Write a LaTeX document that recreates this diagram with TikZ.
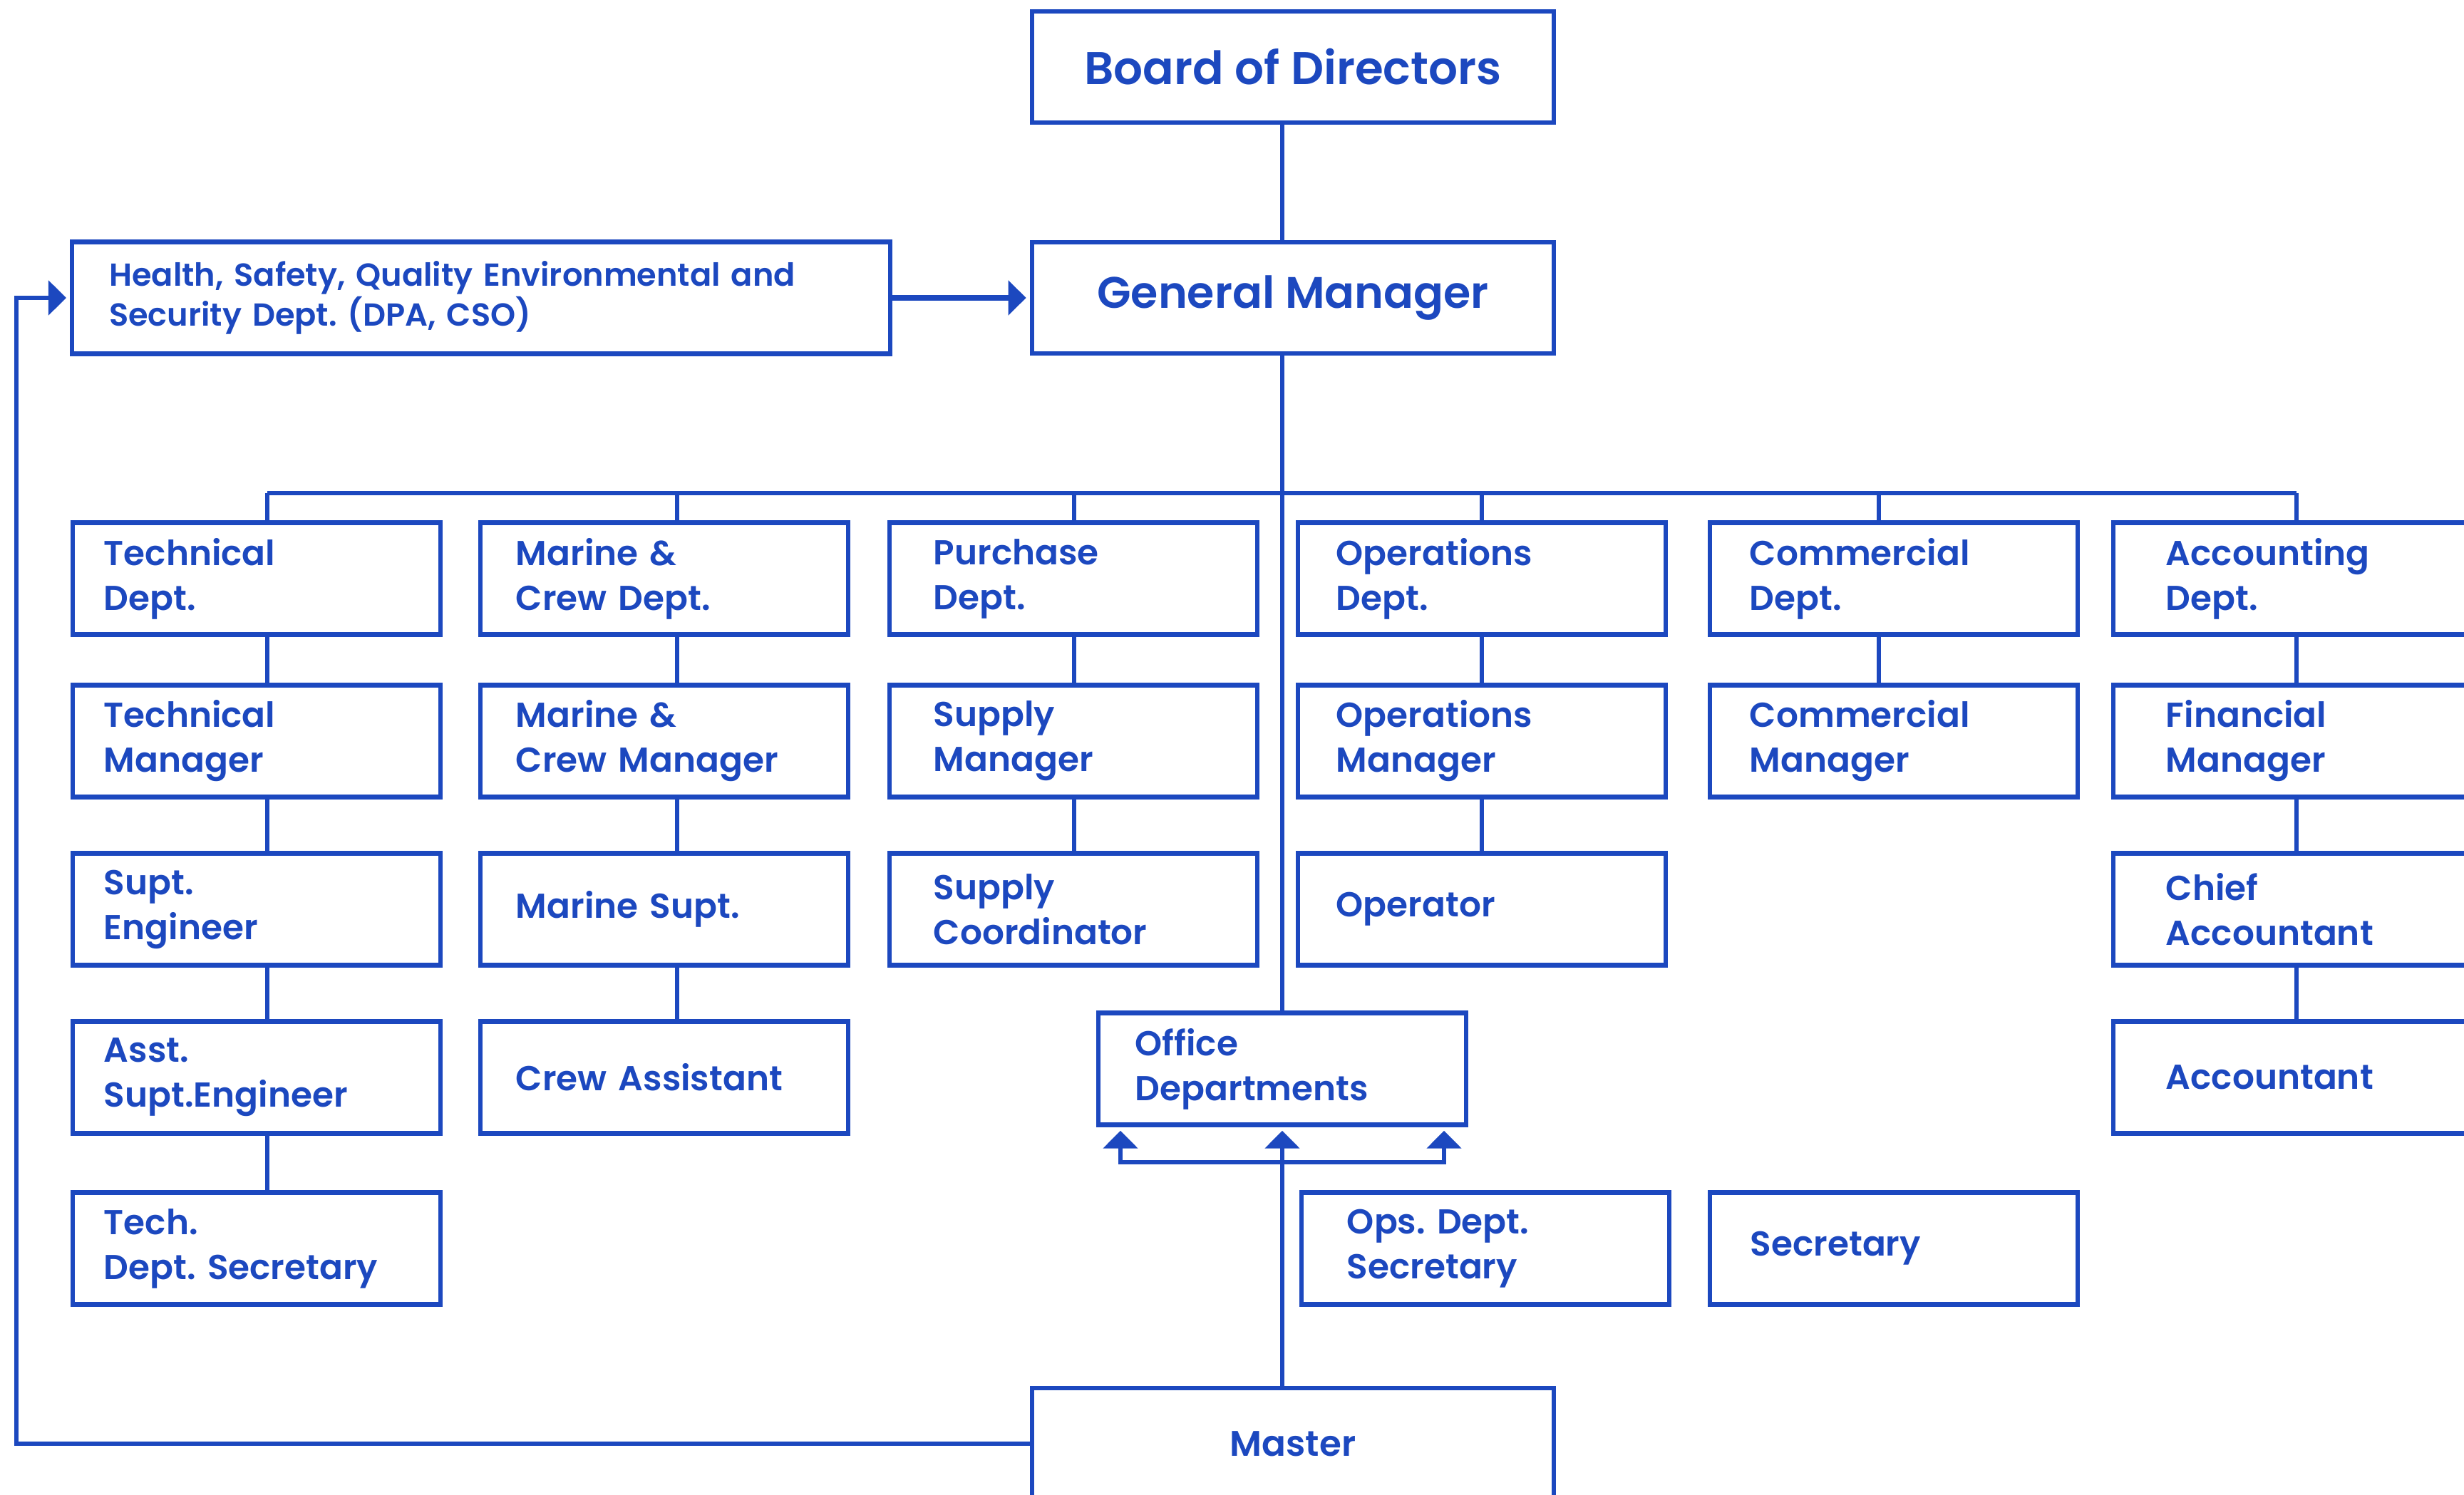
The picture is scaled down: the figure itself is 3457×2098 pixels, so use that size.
\documentclass[tikz,border=0pt]{standalone}
\usepackage{fontspec}
\setmainfont{Poppins}[UprightFont={* SemiBold}]
\usetikzlibrary{arrows.meta}
\definecolor{orgblue}{HTML}{1C48BF}
\frenchspacing

\begin{document}
\begin{tikzpicture}[x=0.01cm, y=-0.01cm, every node/.style={text=orgblue}]
    % Styles
    \tikzstyle{unit} = [rectangle, draw=orgblue, line width=1.8pt, minimum width=5.16cm, minimum height=1.57cm, align=left, font=\fontsize{13.8}{17.9}\selectfont]
    \tikzstyle{pad} = [inner xsep=#1, text width=5.16cm-2*#1]
    \tikzstyle{head} = [rectangle, draw=orgblue, line width=1.8pt, minimum width=7.32cm, minimum height=1.56cm, font=\fontsize{18.3}{22}\selectfont]
    \tikzstyle{line} = [draw=orgblue, line width=1.6pt]
    \tikzstyle{arrow} = [line, -{Triangle[width=0.48cm, length=0.25cm]}, shorten >=0.05cm]

    \useasboundingbox (0,0) rectangle (3457,2098);

    % Top
    \node (board) [head] at (1814,94) {Board of Directors};
    \node (gm) [head, font=\fontsize{17.6}{22}\selectfont] at (1814,418) {General Manager};
    \node (hsqe) [unit, minimum width=11.47cm, inner xsep=0.52cm, text width=10.43cm, font=\fontsize{12.7}{15}\selectfont] at (675,418) {Health, Safety, Quality Environmental and\\Security Dept. (DPA, CSO)};

    % Departments
    \node (techdept)   [unit, pad=0.44cm] at (360,812)  {Technical\\Dept.};
    \node (techmgr)    [unit, pad=0.44cm] at (360,1040) {Technical\\Manager};
    \node (supteng)    [unit, pad=0.44cm] at (360,1276) {Supt.\\Engineer};
    \node (asstsupt)   [unit, pad=0.44cm] at (360,1512) {Asst.\\Supt.Engineer};
    \node (techsec)    [unit, pad=0.44cm] at (360,1752) {Tech.\\Dept. Secretary};

    \node (marinedept) [unit, pad=0.50cm] at (932,812)  {Marine \&\\Crew Dept.};
    \node (marinemgr)  [unit, pad=0.50cm] at (932,1040) {Marine \&\\Crew Manager};
    \node (marinesupt) [unit, pad=0.50cm] at (932,1276) {Marine Supt.};
    \node (crewasst)   [unit, pad=0.50cm] at (932,1512) {Crew Assistant};

    \node (purchdept)  [unit, pad=0.62cm] at (1506,812)  {Purchase\\Dept.};
    \node (supplymgr)  [unit, pad=0.62cm] at (1506,1040) {Supply\\Manager};
    \node (supplycoord)[unit, pad=0.62cm] at (1506,1276) {Supply\\Coordinator};

    \node (opsdept)    [unit, pad=0.54cm] at (2079,812)  {Operations\\Dept.};
    \node (opsmgr)     [unit, pad=0.54cm] at (2079,1040) {Operations\\Manager};
    \node (operator)   [unit, pad=0.54cm] at (2079,1276) {Operator};

    \node (commdept)   [unit, pad=0.56cm] at (2657,812)  {Commercial\\Dept.};
    \node (commmgr)    [unit, pad=0.56cm] at (2657,1040) {Commercial\\Manager};

    \node (accdept)    [unit, pad=0.74cm] at (3223,812)  {Accounting\\Dept.};
    \node (finmgr)     [unit, pad=0.74cm] at (3223,1040) {Financial\\Manager};
    \node (chiefacc)   [unit, pad=0.74cm] at (3223,1276) {Chief\\Accountant};
    \node (accountant) [unit, pad=0.74cm] at (3223,1512) {Accountant};

    % Office and ship
    \node (office)     [unit, pad=0.52cm] at (1799,1500) {Office\\Departments};
    \node (opssec)     [unit, pad=0.64cm] at (2084,1752) {Ops. Dept.\\Secretary};
    \node (secretary)  [unit, pad=0.57cm] at (2657,1752) {Secretary};
    \node (master) [head, font=\fontsize{14.2}{17}\selectfont] at (1814,2026) {Master};

    % Bus
    \coordinate (spine) at (1799,692);
    \coordinate (b1) at (375,692);
    \coordinate (b2) at (950,692);
    \coordinate (b3) at (1507,692);
    \coordinate (b4) at (2079,692);
    \coordinate (b5) at (2636,692);
    \coordinate (b6) at (3222,692);
    \coordinate (loop) at (23,692);
    \coordinate (brl) at (1572,1631);
    \coordinate (brr) at (2026,1631);

    % Lines
    \draw [line] (spine |- board.south) -- (spine |- gm.north);
    \draw [line] (spine |- gm.south) -- (spine |- office.north);
    \draw [line] (b1) -- (b6);

    \draw [line] (b1) -- (b1 |- techdept.north);
    \draw [line] (b1 |- techdept.south) -- (b1 |- techmgr.north);
    \draw [line] (b1 |- techmgr.south) -- (b1 |- supteng.north);
    \draw [line] (b1 |- supteng.south) -- (b1 |- asstsupt.north);
    \draw [line] (b1 |- asstsupt.south) -- (b1 |- techsec.north);

    \draw [line] (b2) -- (b2 |- marinedept.north);
    \draw [line] (b2 |- marinedept.south) -- (b2 |- marinemgr.north);
    \draw [line] (b2 |- marinemgr.south) -- (b2 |- marinesupt.north);
    \draw [line] (b2 |- marinesupt.south) -- (b2 |- crewasst.north);

    \draw [line] (b3) -- (b3 |- purchdept.north);
    \draw [line] (b3 |- purchdept.south) -- (b3 |- supplymgr.north);
    \draw [line] (b3 |- supplymgr.south) -- (b3 |- supplycoord.north);

    \draw [line] (b4) -- (b4 |- opsdept.north);
    \draw [line] (b4 |- opsdept.south) -- (b4 |- opsmgr.north);
    \draw [line] (b4 |- opsmgr.south) -- (b4 |- operator.north);

    \draw [line] (b5) -- (b5 |- commdept.north);
    \draw [line] (b5 |- commdept.south) -- (b5 |- commmgr.north);

    \draw [line] (b6) -- (b6 |- accdept.north);
    \draw [line] (b6 |- accdept.south) -- (b6 |- finmgr.north);
    \draw [line] (b6 |- finmgr.south) -- (b6 |- chiefacc.north);
    \draw [line] (b6 |- chiefacc.south) -- (b6 |- accountant.north);

    % Arrows
    \draw [arrow, line width=2pt] (hsqe) -- (gm);
    \draw [arrow] (master.west) -- (master.west -| loop) |- (hsqe.west);
    \draw [arrow] (spine |- master.north) -- (spine |- office.south);
    \draw [line, {Triangle[width=0.48cm, length=0.25cm]}-{Triangle[width=0.48cm, length=0.25cm]}, shorten <=0.05cm, shorten >=0.05cm] (brl |- office.south) -- (brl) -- (brr) -- (brr |- office.south);
\end{tikzpicture}
\end{document}
